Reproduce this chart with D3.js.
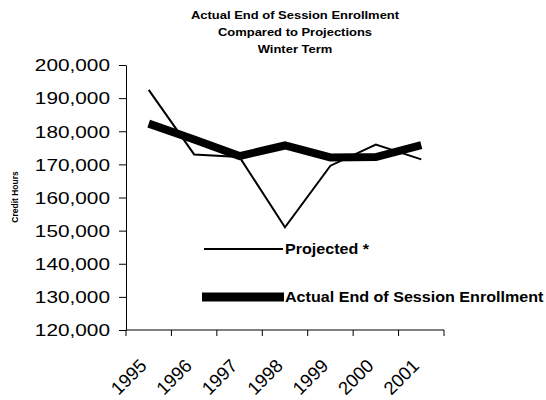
<!DOCTYPE html>
<html>
<head>
<meta charset="utf-8">
<script src="https://cdn.jsdelivr.net/npm/d3@7"></script>
<style>
  body { margin: 0; background: #fff; }
  svg { display: block; font-family: "Liberation Sans", Arial, sans-serif; }
</style>
</head>
<body>
<svg id="chart" width="546" height="400"></svg>
<script>
const years = ['1995', '1996', '1997', '1998', '1999', '2000', '2001'];
const projected = [192500, 173000, 172200, 151000, 169600, 176000, 171500];
const actual = [182300, 177500, 172500, 175700, 172100, 172200, 175800];
const yTicks = [120000, 130000, 140000, 150000, 160000, 170000, 180000, 190000, 200000];
const titleLines = ['Actual End of Session Enrollment', 'Compared to Projections', 'Winter Term'];
const seriesNames = ['Projected *', 'Actual End of Session Enrollment'];

(function() {
    'use strict';
    const margin = { top: 65, right: 102, bottom: 70, left: 126 };
    const svg = d3.select('#chart');
    const width = 546 - margin.left - margin.right;
    const height = 400 - margin.top - margin.bottom;

    const g = svg.append('g')
        .attr('transform', `translate(${margin.left},${margin.top})`);

    const x = d3.scaleBand().domain(years).range([0, width]);
    const y = d3.scaleLinear().domain([120000, 200000]).range([height, 0]);
    const cx = d => x(d) + x.bandwidth() / 2;

    // title
    svg.append('g').selectAll('text')
        .data(titleLines)
        .enter()
        .append('text')
        .attr('transform', (d, i) => `translate(295,${19 + i * 17}) scale(1.18,1)`)
        .attr('text-anchor', 'middle')
        .style('font-size', '11px')
        .style('font-weight', 'bold')
        .text(d => d);

    // y axis
    const yAxis = g.append('g')
        .call(d3.axisLeft(y).tickValues(yTicks).tickSize(7).tickSizeOuter(0).tickFormat(d3.format(',')));
    yAxis.select('.domain').attr('stroke', '#000');
    yAxis.selectAll('.tick line').attr('stroke', '#000');
    yAxis.selectAll('.tick text')
        .attr('x', 0)
        .attr('dy', '0.36em')
        .attr('transform', 'translate(-16,0) scale(1.3,1)')
        .style('font-family', '"Liberation Sans", Arial, sans-serif')
        .style('font-size', '16px')
        .attr('fill', '#000');

    // y title
    svg.append('text')
        .attr('transform', 'translate(18,197) rotate(-90)')
        .attr('text-anchor', 'middle')
        .style('font-size', '8.5px')
        .style('font-weight', 'bold')
        .text('Credit Hours');

    // x axis
    const bounds = years.map(d => x(d)).concat([x.range()[1]]);
    const xg = g.append('g').attr('transform', `translate(0,${height})`);
    xg.append('line')
        .attr('x1', 0).attr('x2', width)
        .attr('stroke', '#000');
    xg.selectAll('line.tk')
        .data(bounds)
        .enter()
        .append('line')
        .attr('class', 'tk')
        .attr('x1', d => d).attr('x2', d => d)
        .attr('y1', 0).attr('y2', 6)
        .attr('stroke', '#000');
    xg.selectAll('text')
        .data(years)
        .enter()
        .append('text')
        .attr('transform', d => `translate(${cx(d) - 1},37) rotate(-45)`)
        .attr('text-anchor', 'end')
        .style('font-size', '18.5px')
        .text(d => d);

    // lines
    const line = vals => d3.line()
        .x((v, i) => cx(years[i]))
        .y(v => y(v))(vals);

    g.append('path')
        .attr('d', line(projected))
        .attr('fill', 'none')
        .attr('stroke', '#000')
        .attr('stroke-width', 2);

    g.append('path')
        .attr('d', line(actual))
        .attr('fill', 'none')
        .attr('stroke', '#000')
        .attr('stroke-width', 8);

    // legend
    const legend = svg.append('g');
    legend.append('line')
        .attr('x1', 204).attr('x2', 283)
        .attr('y1', 249).attr('y2', 249)
        .attr('stroke', '#000').attr('stroke-width', 2);
    legend.append('line')
        .attr('x1', 202).attr('x2', 284)
        .attr('y1', 297).attr('y2', 297)
        .attr('stroke', '#000').attr('stroke-width', 9);
    legend.selectAll('text')
        .data(seriesNames)
        .enter()
        .append('text')
        .attr('transform', (d, i) => `translate(285,${254 + i * 48}) scale(1.15,1)`)
        .style('font-size', '14px')
        .style('font-weight', 'bold')
        .text(d => d);
})();
</script>
</body>
</html>
